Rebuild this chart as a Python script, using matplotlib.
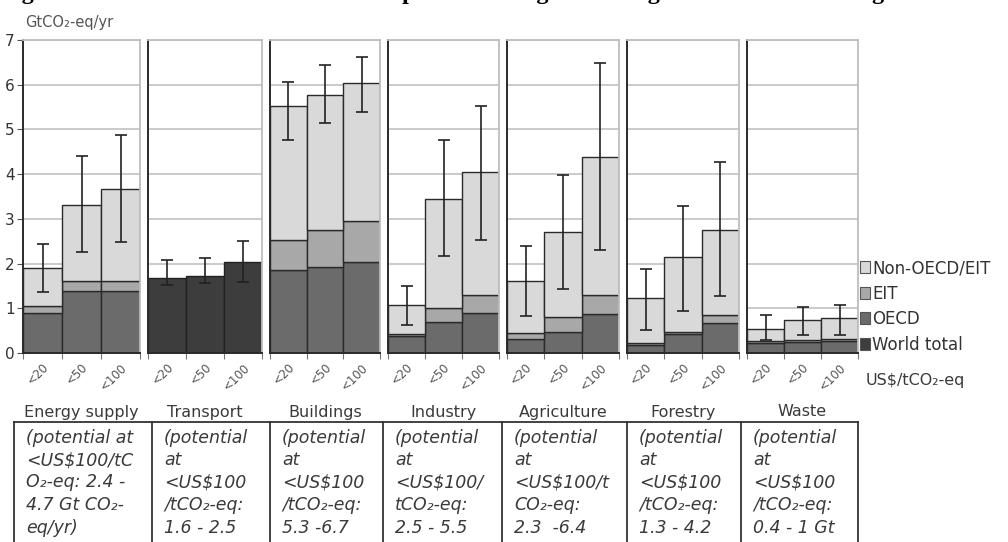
"""
Sectoral economic mitigation potential by region and carbon price (stacked bars)
"""

import numpy as np
import matplotlib.pyplot as plt
from matplotlib.patches import Patch
from matplotlib.lines import Line2D

sectors = ["Energy supply", "Transport", "Buildings", "Industry",
           "Agriculture", "Forestry", "Waste"]
prices = ["<20", "<50", "<100"]

# GtCO2-eq/yr for each sector at <20, <50, <100 US$/tCO2-eq
oecd = [[0.90, 1.38, 1.38], [0, 0, 0], [1.86, 1.92, 2.03], [0.37, 0.69, 0.89],
        [0.31, 0.48, 0.88], [0.19, 0.43, 0.67], [0.22, 0.25, 0.27]]
eit = [[0.15, 0.24, 0.24], [0, 0, 0], [0.66, 0.83, 0.93], [0.06, 0.31, 0.41],
       [0.14, 0.32, 0.42], [0.03, 0.05, 0.17], [0.04, 0.05, 0.05]]
total = [[1.90, 3.31, 3.67], [1.68, 1.73, 2.03], [5.52, 5.77, 6.03], [1.07, 3.44, 4.04],
         [1.60, 2.70, 4.39], [1.23, 2.14, 2.75], [0.54, 0.73, 0.78]]
err_lo = [[1.36, 2.26, 2.49], [1.51, 1.56, 1.59], [4.77, 5.14, 5.40], [0.63, 2.17, 2.53],
          [0.83, 1.43, 2.31], [0.52, 0.95, 1.27], [0.30, 0.41, 0.41]]
err_hi = [[2.43, 4.41, 4.88], [2.08, 2.12, 2.50], [6.07, 6.44, 6.63], [1.49, 4.77, 5.52],
          [2.40, 3.98, 6.48], [1.88, 3.28, 4.28], [0.86, 1.02, 1.07]]
world_only = ["Transport"]

potential_text = [
    ["(potential at", "<US$100/tC", "O\u2082-eq: 2.4 -", "4.7 Gt CO\u2082-", "eq/yr)"],
    ["(potential", "at", "<US$100", "/tCO\u2082-eq:", "1.6 - 2.5"],
    ["(potential", "at", "<US$100", "/tCO\u2082-eq:", "5.3 -6.7"],
    ["(potential", "at", "<US$100/", "tCO\u2082-eq:", "2.5 - 5.5"],
    ["(potential", "at", "<US$100/t", "CO\u2082-eq:", "2.3  -6.4"],
    ["(potential", "at", "<US$100", "/tCO\u2082-eq:", "1.3 - 4.2"],
    ["(potential", "at", "<US$100", "/tCO\u2082-eq:", "0.4 - 1 Gt"],
]

legend_labels = ["Non-OECD/EIT", "EIT", "OECD", "World total"]
colors = {"Non-OECD/EIT": "#d9d9d9", "EIT": "#a8a8a8",
          "OECD": "#6b6b6b", "World total": "#3d3d3d"}

plt.rcParams['font.family'] = ['DejaVu Sans']

W, H = 1008, 542
fig = plt.figure(figsize=(W / 100, H / 100), dpi=100)

# panel geometry in pixels (reference layout)
panel_left = [23, 148, 270, 388, 507, 627, 747]
panel_right = [140, 262, 380, 499, 619, 739, 858]
y_zero, y_top = 353, 40


def fx(px):
    return px / W


def fy(px):
    return 1 - px / H


text_col = "#3a3a3a"
x = np.arange(3) + 0.5
for i, sector in enumerate(sectors):
    ax = fig.add_axes([fx(panel_left[i]), fy(y_zero),
                       fx(panel_right[i] - panel_left[i]), (y_zero - y_top) / H])
    ax.set_xlim(0, 3)
    ax.set_ylim(0, 7)
    ax.set_yticks(range(8))
    ax.grid(axis='y', color='#c6c6c6', lw=1.3)
    ax.set_axisbelow(True)

    tot = np.array(total[i])
    if sector in world_only:
        ax.bar(x, tot, width=1, color=colors["World total"], edgecolor='#222222', lw=1)
    else:
        o = np.array(oecd[i])
        e = np.array(eit[i])
        ax.bar(x, o, width=1, color=colors["OECD"], edgecolor='#2a2a2a', lw=1)
        ax.bar(x, e, width=1, bottom=o, color=colors["EIT"], edgecolor='#2a2a2a', lw=1)
        ax.bar(x, tot - o - e, width=1, bottom=o + e, color=colors["Non-OECD/EIT"],
               edgecolor='#2a2a2a', lw=1)
    ax.errorbar(x, tot, yerr=[tot - np.array(err_lo[i]), np.array(err_hi[i]) - tot],
                fmt='none', ecolor='#222222', elinewidth=1.2, capsize=4, capthick=1.2)

    for side in ['top', 'right']:
        ax.spines[side].set_color('#bdbdbd')
        ax.spines[side].set_linewidth(1.3)
    ax.spines['left'].set_color('#2a2a2a')
    ax.spines['left'].set_linewidth(1.4)
    ax.spines['bottom'].set_color('#2a2a2a')
    ax.spines['bottom'].set_linewidth(1.4)

    ax.set_xticks([0, 1, 2, 3])
    ax.set_xticklabels([])
    ax.tick_params(axis='x', which='major', length=4, color='#777777')
    ax.set_xticks(x + 0.12, minor=True)
    ax.set_xticklabels(prices, minor=True, rotation=45, ha='right', va='center',
                       rotation_mode='anchor', fontsize=8.5, color='#555555')
    ax.tick_params(axis='x', which='minor', length=0, pad=9)

    if i == 0:
        ax.tick_params(axis='y', length=4, color='#555555', labelsize=11,
                       labelcolor='#333333', pad=2)
    else:
        ax.tick_params(axis='y', length=0, labelleft=False)

    # sector name under the panel
    cx = (panel_left[i] + panel_right[i]) / 2
    fig.text(fx(cx), fy(412), sector, ha='center', va='center',
             fontsize=11.5, color=text_col)

# legend at right
handles = [Patch(facecolor=colors[k], edgecolor='#555555', lw=0.8) for k in legend_labels]
fig.legend(handles, legend_labels, loc='upper left',
           bbox_to_anchor=(fx(860), fy(259)), frameon=False, fontsize=12,
           handlelength=0.6, handleheight=0.7, handletextpad=0.15,
           labelspacing=0.45, borderaxespad=0, borderpad=0,
           labelcolor='#333333')

fig.text(fx(866), fy(381), "US$/tCO\u2082-eq", ha='left', va='center',
         fontsize=11.5, color=text_col)
fig.text(fx(25), fy(23), "GtCO\u2082-eq/yr", ha='left', va='center',
         fontsize=10.5, color='#555555')

# title, cropped at the top edge as in the source image
fig.text(fx(0), fy(-1.5), "Figure 4: Estimated sectoral economic potential for global "
         "mitigation for different regions as a function of carbon price",
         ha='left', va='baseline', fontsize=17.5, fontweight='bold',
         family=['Liberation Serif', 'DejaVu Serif'], color='black')

# table of potentials
table_top = 422
col_edges = [14, 152, 270, 383, 502, 627, 741, 858]
fig.add_artist(Line2D([fx(col_edges[0]), fx(col_edges[-1])], [fy(table_top)] * 2,
                      transform=fig.transFigure, color='#333333', lw=1.3))
for ce in col_edges:
    fig.add_artist(Line2D([fx(ce)] * 2, [fy(table_top), fy(H)],
                          transform=fig.transFigure, color='#333333', lw=1.3))
row_y = [438, 460, 482, 505, 528]
for c, lines in enumerate(potential_text):
    for r, line in enumerate(lines):
        fig.text(fx(col_edges[c] + 12), fy(row_y[r]), line, ha='left', va='center',
                 fontsize=12.5, style='italic', color=text_col)

fig.savefig("out.png", dpi=100)
